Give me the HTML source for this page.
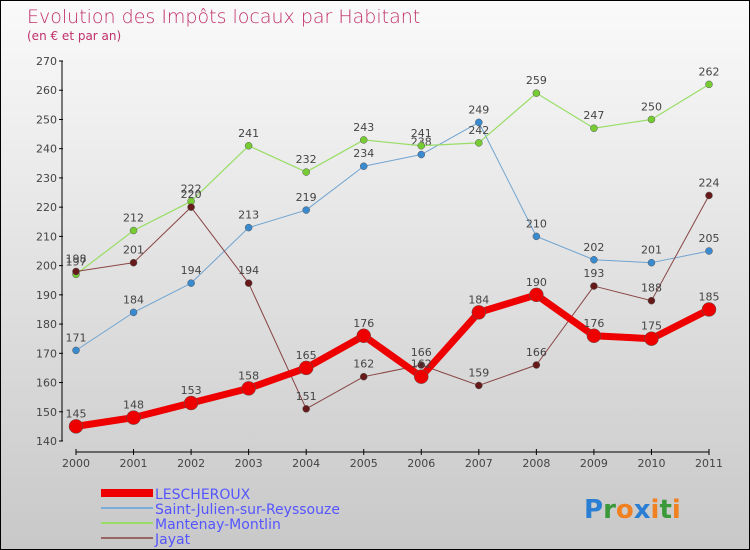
<!DOCTYPE html>
<html><head><meta charset="utf-8"><style>
body{margin:0}
#c{width:748px;height:548px;border:1px solid #000;background:linear-gradient(#fafafa,#c8c8c8);position:relative;font-family:"DejaVu Sans","Liberation Sans",sans-serif}
</style></head><body>
<div id="c">
<svg width="748" height="548" id="s" style="position:absolute;left:0;top:0">
<text x="26" y="22" font-size="19" fill="#c0306a" font-family="DejaVu Sans, sans-serif" font-weight="200">Evolution des Impôts locaux par Habitant</text>
<text x="26" y="39" font-size="12" fill="#c0306a">(en € et par an)</text>
<g id="axes"></g><g id="series"></g>
<g>
<rect x="100" y="488" width="52" height="8" fill="#e00"/>
<text x="154" y="498" font-size="14" fill="#55f">LESCHEROUX</text>
<rect x="100" y="506" width="52" height="2" fill="#7aaed8"/>
<text x="154" y="513" font-size="14" fill="#55f">Saint-Julien-sur-Reyssouze</text>
<rect x="100" y="521" width="52" height="2" fill="#99dd66"/>
<text x="154" y="528" font-size="14" fill="#55f">Mantenay-Montlin</text>
<rect x="100" y="536" width="52" height="2" fill="#996666"/>
<text x="154" y="543" font-size="14" fill="#55f">Jayat</text>
</g>
<text x="583" y="517" font-size="26" font-weight="bold"><tspan fill="#2a7fd4">P</tspan><tspan fill="#3a9a3a">r</tspan><tspan fill="#f08020">o</tspan><tspan fill="#2a7fd4">x</tspan><tspan fill="#f08020">i</tspan><tspan fill="#3a9a3a">t</tspan><tspan fill="#f08020">i</tspan></text>
</svg>
</div>
<script>
const years=["2000","2001","2002","2003","2004","2005","2006","2007","2008","2009","2010","2011"];
const yTicks=[140,150,160,170,180,190,200,210,220,230,240,250,260,270];
const lescheroux=[145,148,153,158,165,176,162,184,190,176,175,185];
const saintJulien=[171,184,194,213,219,234,238,249,210,202,201,205];
const mantenay=[197,212,222,241,232,243,241,242,259,247,250,262];
const jayat=[198,201,220,194,151,162,166,159,166,193,188,224];
const NS="http://www.w3.org/2000/svg";
const X=i=>75+i*(633/11);
const Y=v=>440-(v-140)*(380/130);
function mk(t,a,p){const e=document.createElementNS(NS,t);for(const k in a)e.setAttribute(k,a[k]);p.appendChild(e);return e;}
const ax=document.getElementById('axes');
let l=mk('line',{x1:61,y1:60,x2:61,y2:440,stroke:'#000'},ax);


l=mk('line',{x1:75,y1:451,x2:708,y2:451,stroke:'#000'},ax);


yTicks.forEach(v=>{
 mk('line',{x1:58,x2:62,y1:Y(v),y2:Y(v),stroke:'#000'},ax);
 const t=mk('text',{x:56,y:Y(v)+4,'font-size':11,fill:'#444','text-anchor':'end'},ax);
 t.textContent=v;
 
 
});
years.forEach((y,i)=>{
 mk('line',{x1:X(i),x2:X(i),y1:448,y2:454,stroke:'#000'},ax);
 const t=mk('text',{x:X(i),y:466,'font-size':11,fill:'#444','text-anchor':'middle'},ax);
 t.textContent=y;
 
 
});
const sg=document.getElementById('series');
function draw(vals,name,col,w,r,dot){
 const g=mk('g',{},sg);
 
 
 mk('polyline',{points:vals.map((v,i)=>X(i)+','+Y(v)).join(' '),fill:'none',stroke:col,'stroke-width':w,'stroke-linejoin':'round'},g);
 vals.forEach((v,i)=>{
  const c=mk('circle',{cx:X(i),cy:Y(v),r:r,fill:dot,stroke:'#555','stroke-width':0.5},g);
  
  
  const t=mk('text',{x:X(i),y:Y(v)-9,'font-size':11,fill:'#444','text-anchor':'middle'},g);
  t.textContent=v;
  
  
 });
}
draw(saintJulien,'saint-julien','#6fa3d0',1,3.5,'#3a8ad0');
draw(mantenay,'mantenay','#99dd66',1.2,3.5,'#77cc33');
draw(jayat,'jayat','#884444',1,3.5,'#661a1a');
draw(lescheroux,'lescheroux','#ee0000',7,7,'#ee0000');
</script>
</body></html>
